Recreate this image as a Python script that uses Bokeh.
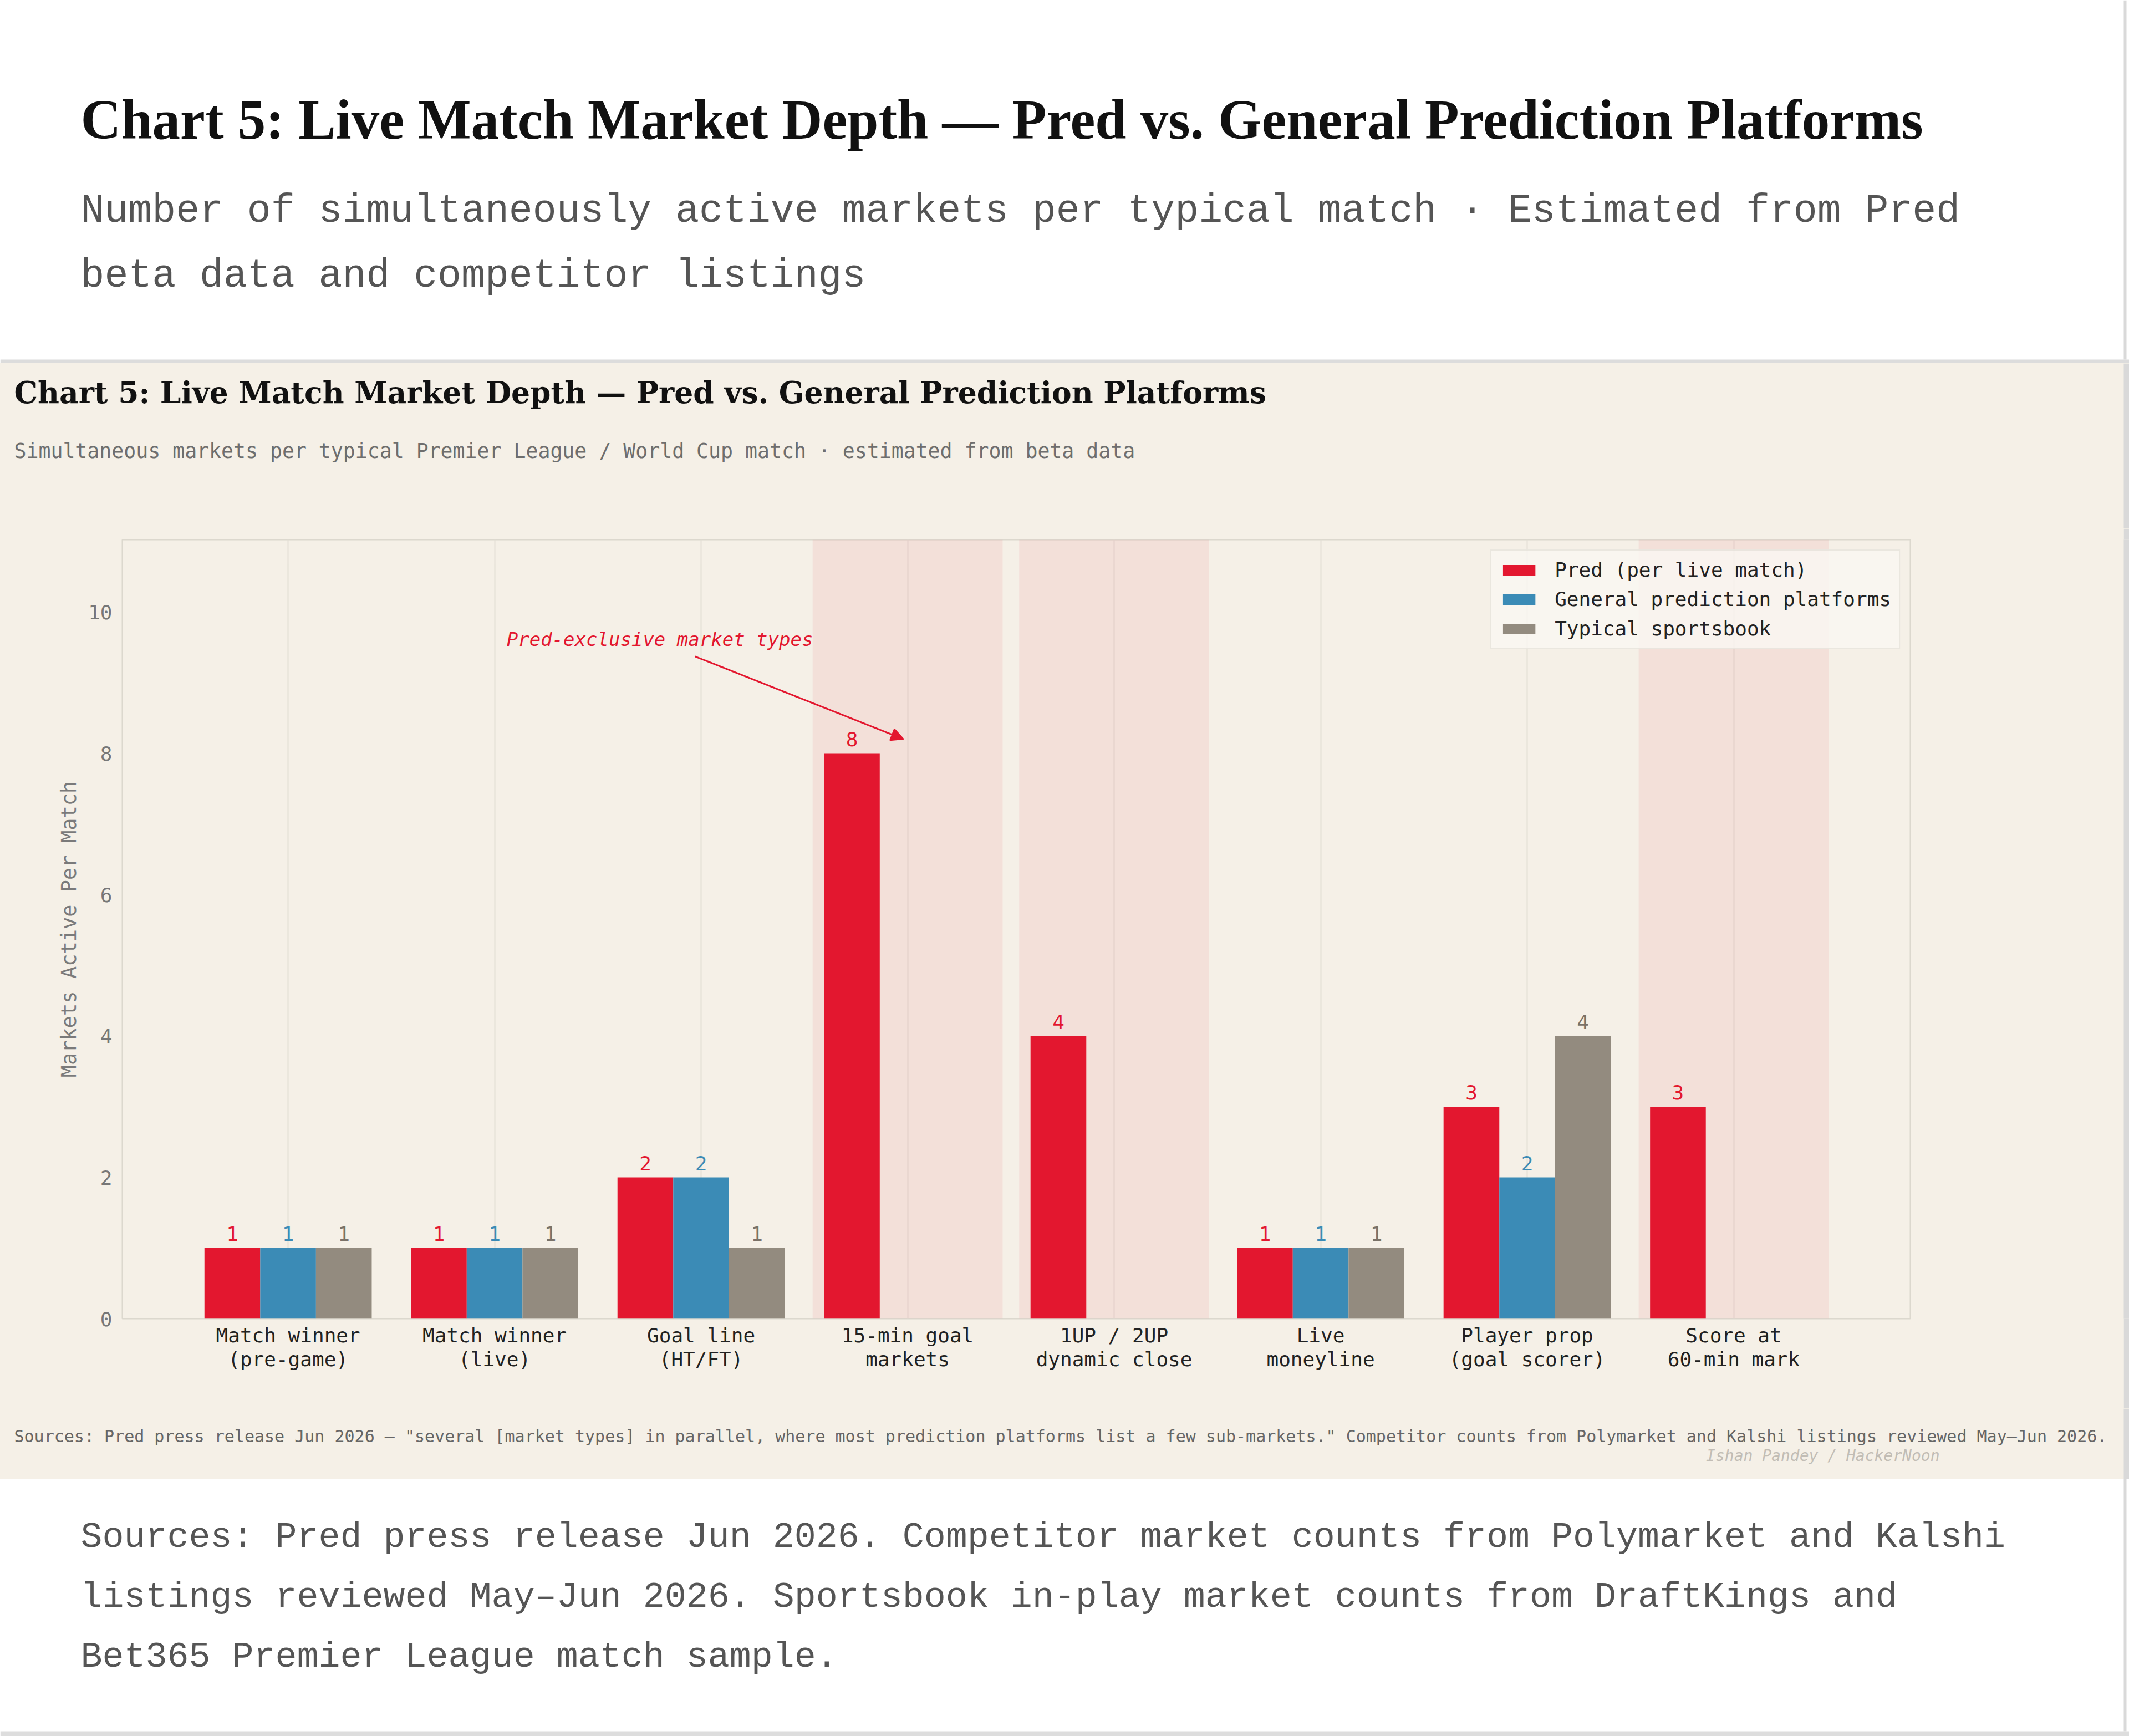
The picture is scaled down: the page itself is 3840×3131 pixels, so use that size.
from bokeh.plotting import figure
from bokeh.models import Range1d, FixedTicker, BoxAnnotation, Arrow, NormalHead
from bokeh.layouts import column, row
from bokeh.embed import file_html
from bokeh.resources import INLINE
from bokeh.core.properties import value

# ---------------- data ----------------
categories = ["Match winner\n(pre-game)", "Match winner\n(live)", "Goal line\n(HT/FT)",
              "15-min goal\nmarkets", "1UP / 2UP\ndynamic close", "Live\nmoneyline",
              "Player prop\n(goal scorer)", "Score at\n60-min mark"]
pred = [1, 1, 2, 8, 4, 1, 3, 3]
general = [1, 1, 2, 0, 0, 1, 2, 0]
sportsbook = [1, 1, 1, 0, 0, 1, 4, 0]
series_names = ["Pred (per live match)", "General prediction platforms", "Typical sportsbook"]
exclusive_idx = [3, 4, 7]
y_ticks = [0, 2, 4, 6, 8, 10]

page_title = "Chart 5: Live Match Market Depth \u2014 Pred vs. General Prediction Platforms"
page_sub = ["Number of simultaneously active markets per typical match \u00b7 Estimated from Pred",
            "beta data and competitor listings"]
panel_title = "Chart 5: Live Match Market Depth \u2014 Pred vs. General Prediction Platforms"
panel_sub = "Simultaneous markets per typical Premier League / World Cup match \u00b7 estimated from beta data"
panel_src = ("Sources: Pred press release Jun 2026 \u2014 \"several [market types] in parallel, where most "
             "prediction platforms list a few sub-markets.\" Competitor counts from Polymarket and Kalshi "
             "listings reviewed May\u2013Jun 2026.")
watermark = "Ishan Pandey / HackerNoon"
page_src = ["Sources: Pred press release Jun 2026. Competitor market counts from Polymarket and Kalshi",
            "listings reviewed May\u2013Jun 2026. Sportsbook in-play market counts from DraftKings and",
            "Bet365 Premier League match sample."]
annot_text = "Pred-exclusive market types"
annot_xy = (1.80, 9.61)
arrow_from = (1.97, 9.37)
arrow_to = (2.98, 8.20)

# ---------------- styles ----------------
W = 3840
PANEL = "#f5f0e7"
RED = "#e3172f"
BLUE = "#3b8bb6"
GREY = "#938b7f"
LABEL_COLORS = [RED, BLUE, "#7a7268"]
BAR_COLORS = [RED, BLUE, GREY]
MONO = "DejaVu Sans Mono"


def text_fig(h, bg, w=W):
    p = figure(width=w, height=h, x_range=Range1d(0, w), y_range=Range1d(h, 0),
               output_backend="svg", toolbar_location=None, min_border=0,
               x_axis_location=None, y_axis_location=None,
               background_fill_color=bg, border_fill_color=bg, outline_line_color=None)
    p.grid.visible = False
    return p


def txt(p, x, y, s, font, size, color, style="normal", align="left"):
    p.text(x=[x], y=[y], text=[s], text_font=value(font), text_font_size=size,
           text_color=color, text_font_style=style, text_align=align, text_baseline="middle")


# header
hdr = text_fig(655, "white")
txt(hdr, 145, 215, page_title, "Liberation Serif", "101px", "#111111", style="bold")
for k, line in enumerate(page_sub):
    txt(hdr, 145, 380 + 117 * k, line, "Liberation Mono", "71.5px", "#555555")
hdr.quad(left=[0], right=[W], top=[648], bottom=[655], color="#dcdcdc", line_color=None)
hdr.quad(left=[3830], right=[3835], top=[0], bottom=[648], color="#d9d9d9", line_color=None)

# panel top
ptop = text_fig(298, PANEL)
txt(ptop, 25, 53, panel_title, "DejaVu Serif", "53.5px", "#111111", style="bold")
txt(ptop, 25, 158, panel_sub, MONO, "36.5px", "#6e6e6e")
ptop.quad(left=[3830], right=[3840], top=[0], bottom=[298], color="#d9d9d9", line_color=None)

# chart
CH = 1587
p = figure(width=3830, height=CH, x_range=Range1d(-0.803, 7.855), y_range=Range1d(0, 11.02),
           output_backend="svg", toolbar_location=None,
           min_border_left=220, min_border_right=385, min_border_top=20, min_border_bottom=162,
           background_fill_color=PANEL, border_fill_color=PANEL,
           outline_line_color="#dcd8ce", outline_line_width=2)

p.xgrid.ticker = FixedTicker(ticks=list(range(len(categories))))
p.xgrid.grid_line_color = "#e2ded4"
p.xgrid.grid_line_width = 2
p.ygrid.grid_line_color = None

for i in exclusive_idx:
    p.add_layout(BoxAnnotation(left=i - 0.46, right=i + 0.46, fill_color=RED, fill_alpha=0.075,
                               line_color=None, level="underlay"))

offsets = [-0.27, 0.0, 0.27]
for s_vals, name, bc, lc, off in zip([pred, general, sportsbook], series_names,
                                     BAR_COLORS, LABEL_COLORS, offsets):
    xs = [i + off for i, v in enumerate(s_vals) if v > 0]
    ys = [v for v in s_vals if v > 0]
    p.vbar(x=xs, top=ys, width=0.27, bottom=0, color=bc, line_color=None, legend_label=name)
    p.text(x=xs, y=ys, text=[str(v) for v in ys], text_font=value(MONO), text_font_size="36px",
           text_color=lc, text_align="center", text_baseline="bottom", y_offset=-13)

p.text(x=[annot_xy[0]], y=[annot_xy[1]], text=[annot_text], text_font=value(MONO),
       text_font_size="34px", text_font_style="italic", text_color=RED,
       text_align="center", text_baseline="middle")
p.add_layout(Arrow(end=NormalHead(size=22, fill_color=RED, line_color=RED, line_width=2),
                   x_start=arrow_from[0], y_start=arrow_from[1], x_end=arrow_to[0], y_end=arrow_to[1],
                   line_color=RED, line_width=3))

p.yaxis.ticker = FixedTicker(ticks=y_ticks)
p.yaxis.axis_label = "Markets Active Per Match"
p.yaxis.axis_label_text_font = MONO
p.yaxis.axis_label_text_font_size = "37px"
p.yaxis.axis_label_text_font_style = "normal"
p.yaxis.axis_label_text_color = "#7a7a7a"
p.yaxis.axis_label_standoff = 10
p.xaxis.ticker = FixedTicker(ticks=list(range(len(categories))))
p.xaxis.major_label_overrides = {i: c for i, c in enumerate(categories)}
for ax in (p.xaxis, p.yaxis):
    ax.axis_line_color = None
    ax.major_tick_line_color = None
    ax.minor_tick_line_color = None
    ax.major_label_text_font = MONO
    ax.major_label_text_font_size = "36px"
    ax.major_label_standoff = 12
p.yaxis.major_label_text_color = "#777777"
p.xaxis.major_label_text_color = "#222222"
p.xaxis.major_label_standoff = 3
p.xaxis.major_label_text_line_height = 1.05

lg = p.legend[0]
lg.location = "top_right"
lg.margin = 18
lg.padding = 14
lg.spacing = 12
lg.glyph_width = 73
lg.glyph_height = 24
lg.label_height = 40
lg.label_standoff = 28
lg.label_text_font = MONO
lg.label_text_font_size = "36px"
lg.label_text_color = "#222222"
lg.background_fill_color = "#faf8f3"
lg.background_fill_alpha = 0.8
lg.border_line_color = "#dcd8ce"
lg.border_line_width = 2

strip = text_fig(CH, "#d9d9d9", w=10)

# panel bottom
pbot = text_fig(127, PANEL)
txt(pbot, 25, 50, panel_src, MONO, "30px", "#666666")
txt(pbot, 3498, 85, watermark, MONO, "28px", "#c2bdb5", style="italic", align="right")
pbot.quad(left=[3830], right=[3840], top=[0], bottom=[127], color="#d9d9d9", line_color=None)

# footer
ftr = text_fig(464, "white")
for k, line in enumerate(page_src):
    txt(ftr, 145, 105 + 108 * k, line, "Liberation Mono", "65px", "#555555")
ftr.quad(left=[0], right=[W], top=[455], bottom=[464], color="#dddddd", line_color=None)
ftr.quad(left=[3830], right=[3835], top=[0], bottom=[455], color="#d9d9d9", line_color=None)

panel = column(ptop, row(p, strip, spacing=0), pbot, spacing=0,
               styles={"background-color": PANEL})
layout = column(hdr, panel, ftr, spacing=0)
open("out.html", "w").write(file_html(layout, INLINE))
